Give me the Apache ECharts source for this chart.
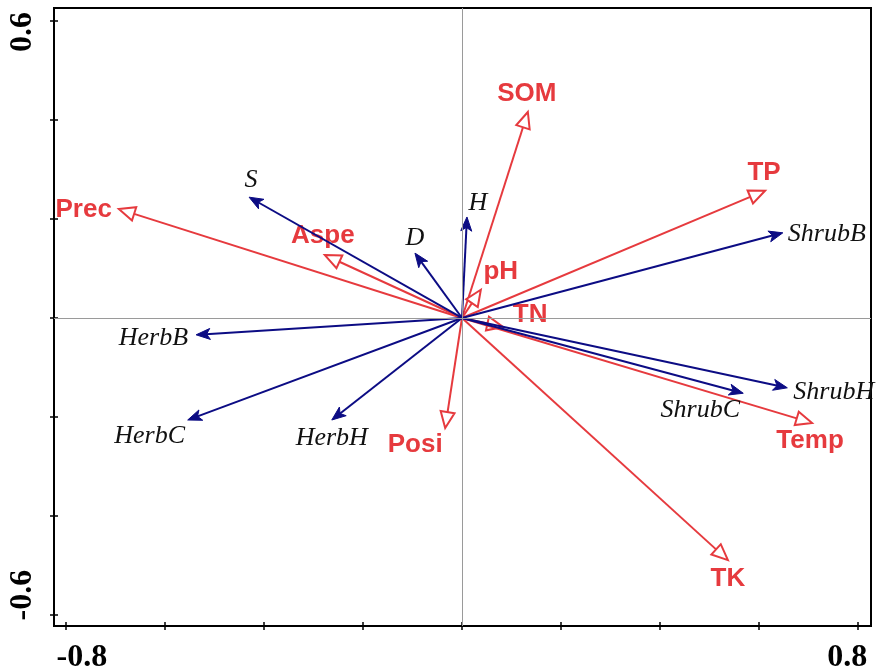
<!DOCTYPE html>
<html>
<head>
<meta charset="utf-8">
<script src="https://cdn.jsdelivr.net/npm/echarts@6/dist/echarts.min.js"></script>
<style>
html,body{margin:0;padding:0;background:#fff;}
#chart{width:886px;height:672px;}
</style>
</head>
<body>
<div id="chart"></div>
<script>
// Environmental variables (red arrows)
const envNames = ['SOM', 'TP', 'Prec', 'Aspe', 'pH', 'TN', 'Temp', 'TK', 'Posi'];
const envX = [0.133, 0.612, -0.693, -0.277, 0.038, 0.083, 0.707, 0.537, -0.034];
const envY = [0.416, 0.257, 0.220, 0.127, 0.057, -0.018, -0.212, -0.489, -0.222];

// Species / response variables (blue arrows)
const sppNames = ['S', 'H', 'D', 'ShrubB', 'HerbB', 'HerbC', 'HerbH', 'ShrubC', 'ShrubH'];
const sppX = [-0.430, 0.010, -0.095, 0.648, -0.537, -0.554, -0.263, 0.568, 0.657];
const sppY = [0.244, 0.204, 0.131, 0.172, -0.034, -0.206, -0.206, -0.152, -0.141];

// Axis ticks and labels
const xTicks = [-0.8, -0.6, -0.4, -0.2, 0, 0.2, 0.4, 0.6, 0.8];
const yTicks = [-0.6, -0.4, -0.2, 0, 0.2, 0.4, 0.6];
const xLabels = [-0.8, 0.8];
const yLabels = [-0.6, 0.6];

// ---- styling / layout (not data) ----
const RED = '#e63a3e';
const BLUE = '#0c0c84';
const envLabelPos = {SOM:[-1,-18], TP:[-1,-18], Prec:[-7,1,'right'], Aspe:[-2,-19], pH:[20,-18], TN:[27,-12], Temp:[-2,18], TK:[0,19], Posi:[-30,17]};
const sppLabelPos = {S:[2,-17], H:[11,-14], D:[0,-15], ShrubB:[5,1,'left'], HerbB:[-8,3,'right'], HerbC:[-38,16], HerbH:[0,18], ShrubC:[-43,17], ShrubH:[6,4,'left']};

function geom(api) {
  const p0 = api.coord([0, 0]);
  const p1 = api.coord([api.value(0), api.value(1)]);
  const dx = p1[0] - p0[0], dy = p1[1] - p0[1];
  const len = Math.hypot(dx, dy) || 1;
  const ux = dx / len, uy = dy / len;
  return {p0, p1, ux, uy, nx: -uy, ny: ux};
}

function renderEnv(params, api) {
  const name = envNames[params.dataIndex];
  const g = geom(api);
  const L = 16, W = 7;
  const bx = g.p1[0] - g.ux * L, by = g.p1[1] - g.uy * L;
  const off = envLabelPos[name];
  return {
    type: 'group',
    children: [
      {type: 'line', shape: {x1: g.p0[0], y1: g.p0[1], x2: bx, y2: by}, style: {stroke: RED, lineWidth: 2}},
      {type: 'polygon', shape: {points: [[g.p1[0], g.p1[1]], [bx + g.nx * W, by + g.ny * W], [bx - g.nx * W, by - g.ny * W]]},
        style: {fill: '#fff', stroke: RED, lineWidth: 2, lineJoin: 'miter'}},
      {type: 'text', x: g.p1[0] + off[0], y: g.p1[1] + off[1],
        style: {text: name, fill: RED, font: 'bold 26px "Liberation Sans", Arial, sans-serif', align: off[2] || 'center', verticalAlign: 'middle'}}
    ]
  };
}

function renderSpp(params, api) {
  const name = sppNames[params.dataIndex];
  const g = geom(api);
  const L = 14, W = 5.5;
  const bx = g.p1[0] - g.ux * L, by = g.p1[1] - g.uy * L;
  const ex = g.p1[0] - g.ux * L * 0.7, ey = g.p1[1] - g.uy * L * 0.7;
  const off = sppLabelPos[name];
  return {
    type: 'group',
    children: [
      {type: 'line', shape: {x1: g.p0[0], y1: g.p0[1], x2: ex, y2: ey}, style: {stroke: BLUE, lineWidth: 2}},
      {type: 'polygon', shape: {points: [[g.p1[0], g.p1[1]], [bx + g.nx * W, by + g.ny * W], [g.p1[0] - g.ux * L * 0.75, g.p1[1] - g.uy * L * 0.75], [bx - g.nx * W, by - g.ny * W]]},
        style: {fill: BLUE, stroke: BLUE, lineWidth: 1}},
      {type: 'text', x: g.p1[0] + off[0], y: g.p1[1] + off[1],
        style: {text: name, fill: '#111', font: 'italic 26px "Liberation Serif", "Times New Roman", serif', align: off[2] || 'center', verticalAlign: 'middle'}}
    ]
  };
}

const axisFont = {fontFamily: '"Liberation Serif", "Times New Roman", serif', fontWeight: 'bold', fontSize: 32, color: '#000'};

const chart = echarts.init(document.getElementById('chart'), null, {renderer: 'canvas'});
chart.setOption({
  backgroundColor: '#fff',
  animation: false,
  grid: {left: 54, right: 15, top: 8, bottom: 46, show: true, borderColor: '#000', borderWidth: 2, backgroundColor: 'transparent', containLabel: false, outerBoundsMode: 'none'},
  xAxis: [
    {type: 'value', min: -0.824, max: 0.826, position: 'bottom',
      axisLine: {show: true, onZero: false, lineStyle: {color: '#000', width: 2}},
      axisTick: {show: true, customValues: xTicks, length: 4, inside: false, lineStyle: {color: '#000', width: 1.5}},
      axisLabel: {show: true, customValues: xLabels, margin: 16,
        formatter: v => v < 0 ? '{a|' + v.toFixed(1) + '}' : '{b|' + v.toFixed(1) + '}',
        rich: {a: Object.assign({padding: [0, 0, 0, 32]}, axisFont), b: Object.assign({padding: [0, 22, 0, 0]}, axisFont)}},
      splitLine: {show: false}},
    {type: 'value', min: -0.824, max: 0.826, position: 'bottom',
      axisLine: {show: false, onZero: false},
      axisTick: {show: true, customValues: xTicks, length: 4, inside: true, lineStyle: {color: '#000', width: 1.5}},
      axisLabel: {show: false}, splitLine: {show: false}}
  ],
  yAxis: [
    {type: 'value', min: -0.622, max: 0.626, position: 'left',
      axisLine: {show: true, onZero: false, lineStyle: {color: '#000', width: 2}},
      axisTick: {show: true, customValues: yTicks, length: 4, inside: false, lineStyle: {color: '#000', width: 1.5}},
      axisLabel: {show: true, customValues: yLabels, rotate: 90, margin: 15,
        formatter: v => v < 0 ? '{a|' + v.toFixed(1) + '}' : '{b|' + v.toFixed(1) + '}',
        rich: {a: Object.assign({padding: [0, 0, 0, 40]}, axisFont), b: Object.assign({padding: [0, 22, 0, 0]}, axisFont)}},
      splitLine: {show: false}},
    {type: 'value', min: -0.622, max: 0.626, position: 'left',
      axisLine: {show: false, onZero: false},
      axisTick: {show: true, customValues: yTicks, length: 4, inside: true, lineStyle: {color: '#000', width: 1.5}},
      axisLabel: {show: false}, splitLine: {show: false}}
  ],
  series: [
    {type: 'line', data: [], z: 1, silent: true,
      markLine: {silent: true, symbol: ['none', 'none'], label: {show: false},
        lineStyle: {color: '#9a9a9a', width: 1, type: 'solid'},
        data: [{xAxis: 0}, {yAxis: 0}]}},
    {type: 'custom', coordinateSystem: 'cartesian2d', clip: false, z: 3, silent: true,
      renderItem: renderEnv, data: envX.map((x, i) => [x, envY[i]])},
    {type: 'custom', coordinateSystem: 'cartesian2d', clip: false, z: 4, silent: true,
      renderItem: renderSpp, data: sppX.map((x, i) => [x, sppY[i]])}
  ]
});
</script>
</body>
</html>
